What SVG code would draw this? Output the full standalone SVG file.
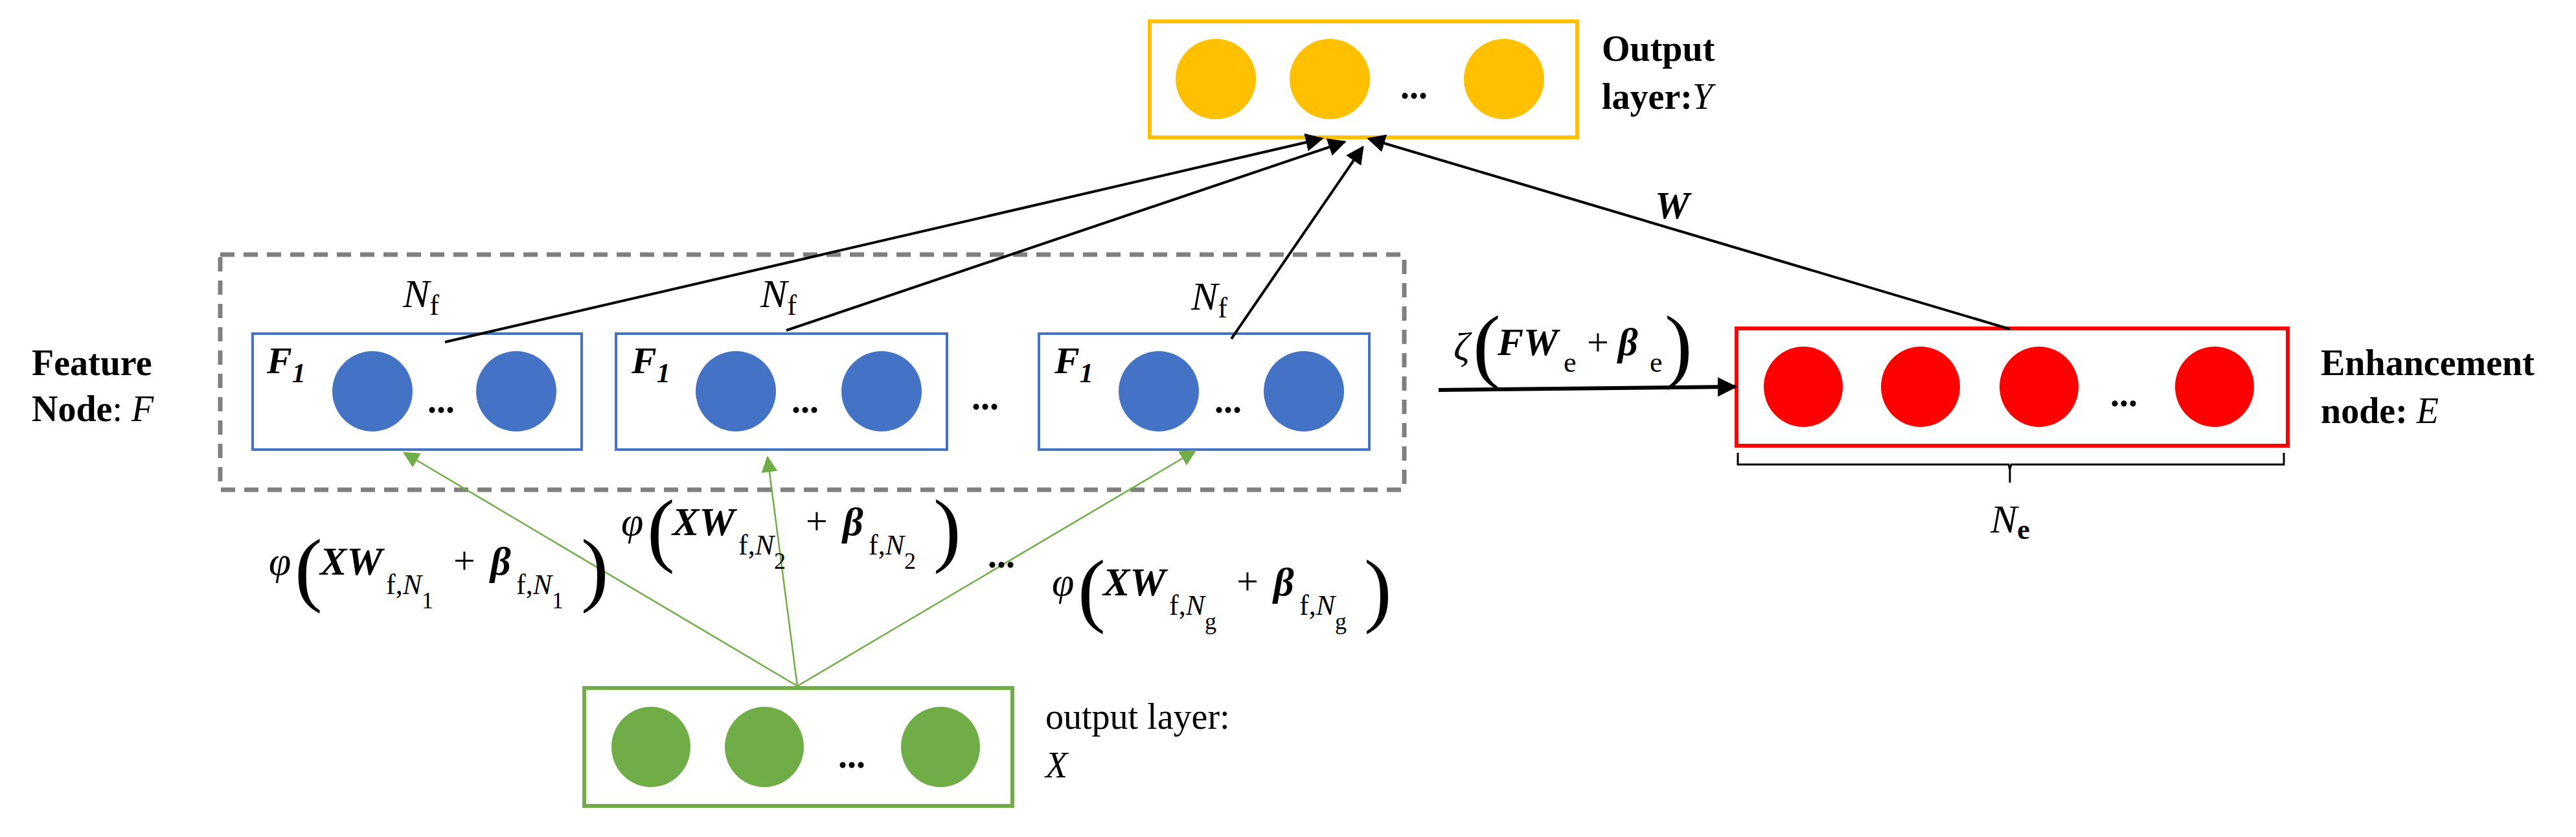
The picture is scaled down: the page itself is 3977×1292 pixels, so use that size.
<svg xmlns="http://www.w3.org/2000/svg" width="3977" height="1292" viewBox="0 0 3977 1292">
<style>
.t{font-family:"Liberation Serif","Times New Roman",serif;fill:#000}
.b{font-weight:bold}
.i{font-style:italic}
.lbl{font-size:56px}
.m{font-size:62px;font-style:italic}
.s{font-size:44px;font-style:normal}
.ss{font-size:36px;font-style:normal}
.par{font-size:128px;font-weight:normal;font-style:normal}
.dots{font-family:"Liberation Serif",serif;font-size:56px;font-weight:bold}
.blk{stroke:#000;stroke-width:4;fill:none}
.grn{stroke:#70AD47;stroke-width:2.5;fill:none}
</style>
<defs>
<marker id="ab" viewBox="0 0 10 10" refX="9" refY="5" markerWidth="7" markerHeight="7" markerUnits="strokeWidth" orient="auto"><path d="M0,0 L10,5 L0,10 z" fill="#000"/></marker>
<marker id="ab2" viewBox="0 0 10 10" refX="9" refY="5" markerWidth="5" markerHeight="5" markerUnits="strokeWidth" orient="auto"><path d="M0,0 L10,5 L0,10 z" fill="#000"/></marker>
<marker id="ag" viewBox="0 0 10 10" refX="9" refY="5" markerWidth="12" markerHeight="10" markerUnits="strokeWidth" orient="auto"><path d="M0,0 L10,5 L0,10 z" fill="#70AD47"/></marker>
</defs>

<g id="feature-group">
<rect x="340" y="393" width="1828" height="363" fill="none" stroke="#7F7F7F" stroke-width="7" stroke-dasharray="22 14"/>
<text class="t b lbl" x="49" y="579">Feature</text>
<text class="t b lbl" x="49" y="650">Node<tspan font-weight="normal">:  </tspan><tspan class="i" font-weight="normal">F</tspan></text>
<text class="dots" x="1500" y="632">...</text>
</g>

<g id="feature1">
<rect x="390" y="515" width="508" height="179" fill="#fff" stroke="#4472C4" stroke-width="4"/>
<text class="t i b" font-size="58" x="412" y="576">F<tspan font-size="42" dy="14">1</tspan></text>
<ellipse cx="575" cy="604" rx="62" ry="62" fill="#4472C4"/>
<ellipse cx="797" cy="604" rx="62" ry="62" fill="#4472C4"/>
<text class="dots" x="660" y="637">...</text>
<text class="t m" x="622" y="474">N<tspan class="s" dy="12">f</tspan></text>
</g>
<g id="feature2">
<rect x="951" y="515" width="511" height="179" fill="#fff" stroke="#4472C4" stroke-width="4"/>
<text class="t i b" font-size="58" x="975" y="576">F<tspan font-size="42" dy="14">1</tspan></text>
<ellipse cx="1136" cy="604" rx="62" ry="62" fill="#4472C4"/>
<ellipse cx="1361" cy="604" rx="62" ry="62" fill="#4472C4"/>
<text class="dots" x="1222" y="637">...</text>
<text class="t m" x="1174" y="474">N<tspan class="s" dy="12">f</tspan></text>
</g>
<g id="feature3">
<rect x="1604" y="515" width="510" height="179" fill="#fff" stroke="#4472C4" stroke-width="4"/>
<text class="t i b" font-size="58" x="1628" y="576">F<tspan font-size="42" dy="14">1</tspan></text>
<ellipse cx="1789" cy="604" rx="62" ry="62" fill="#4472C4"/>
<ellipse cx="2013" cy="604" rx="62" ry="62" fill="#4472C4"/>
<text class="dots" x="1875" y="637">...</text>
<text class="t m" x="1839" y="478">N<tspan class="s" dy="12">f</tspan></text>
</g>

<g id="output-Y">
<rect x="1775" y="33" width="660" height="179" fill="#fff" stroke="#FFC000" stroke-width="6"/>
<ellipse cx="1877" cy="122" rx="62" ry="62" fill="#FFC000"/>
<ellipse cx="2053" cy="122" rx="62" ry="62" fill="#FFC000"/>
<ellipse cx="2322" cy="122" rx="62" ry="62" fill="#FFC000"/>
<text class="dots" x="2162" y="152">...</text>
<text class="t b lbl" x="2473" y="94">Output</text>
<text class="t b lbl" x="2473" y="168">layer:<tspan class="i" font-weight="normal">Y</tspan></text>
</g>

<g id="enhancement-E">
<rect x="2681" y="507" width="851" height="181" fill="#fff" stroke="#FF0000" stroke-width="6"/>
<ellipse cx="2784" cy="597" rx="61" ry="62" fill="#FF0000"/>
<ellipse cx="2965" cy="597" rx="61" ry="62" fill="#FF0000"/>
<ellipse cx="3148" cy="597" rx="61" ry="62" fill="#FF0000"/>
<ellipse cx="3419" cy="597" rx="61" ry="62" fill="#FF0000"/>
<text class="dots" x="3258" y="627">...</text>
<text class="t b lbl" x="3583" y="579">Enhancement</text>
<text class="t b lbl" x="3583" y="653">node: <tspan class="i" font-weight="normal">E</tspan></text>
<path d="M2683,699 v18 h418 l2,8 l2,-8 h421 v-18" fill="none" stroke="#000" stroke-width="3"/>
<line x1="3103" y1="725" x2="3103" y2="745" stroke="#000" stroke-width="3"/>
<text class="t m" x="3073" y="822">N<tspan class="s b" dy="10">e</tspan></text>
</g>

<g id="input-X">
<rect x="902" y="1062" width="661" height="182" fill="#fff" stroke="#70AD47" stroke-width="6"/>
<ellipse cx="1005" cy="1153" rx="61" ry="62" fill="#70AD47"/>
<ellipse cx="1180" cy="1153" rx="61" ry="62" fill="#70AD47"/>
<ellipse cx="1452" cy="1153" rx="61" ry="62" fill="#70AD47"/>
<text class="dots" x="1294" y="1185">...</text>
<text class="t lbl" x="1614" y="1125">output layer:</text>
<text class="t lbl i" x="1614" y="1200">X</text>
</g>

<g id="connectors">
<line class="blk" x1="687" y1="528" x2="2041" y2="214" marker-end="url(#ab)"/>
<line class="blk" x1="1214" y1="510" x2="2076" y2="219" marker-end="url(#ab)"/>
<line class="blk" x1="1901" y1="523" x2="2104" y2="227" marker-end="url(#ab)"/>
<line class="blk" x1="3103" y1="508" x2="2113" y2="214" marker-end="url(#ab)"/>
<line x1="2221" y1="602" x2="2679" y2="597" stroke="#000" stroke-width="6" marker-end="url(#ab2)"/>
<line class="grn" x1="1231" y1="1059" x2="624" y2="699" marker-end="url(#ag)"/>
<line class="grn" x1="1231" y1="1059" x2="1185" y2="706" marker-end="url(#ag)"/>
<line class="grn" x1="1231" y1="1059" x2="1845" y2="696" marker-end="url(#ag)"/>
</g>

<g id="labels">
<text class="t i b" font-size="60" x="2555" y="337">W</text>
<g id="zeta">
<text class="t i" font-size="62" x="2244" y="556">ζ</text>
<text class="t par" font-size="108" x="2274" y="575">(</text>
<text class="t b i" font-size="60" x="2312" y="548">FW</text>
<text class="t s" x="2414" y="574">e</text>
<text class="t" font-size="60" x="2450" y="548">+</text>
<text class="t b i" font-size="60" x="2498" y="548">β</text>
<text class="t s" x="2547" y="574">e</text>
<text class="t par" font-size="108" x="2570" y="575">)</text>
</g>
<g id="phi1">
<text class="t i" font-size="62" x="415" y="887">φ</text>
<text class="t par" x="455" y="920">(</text>
<text class="t b i" font-size="62" x="494" y="887">XW</text>
<text class="t s" x="596" y="917">f,<tspan class="i">N</tspan><tspan class="ss" dy="22">1</tspan></text>
<text class="t" font-size="60" x="700" y="885">+</text>
<text class="t b i" font-size="62" x="757" y="887">β</text>
<text class="t s" x="797" y="917">f,<tspan class="i">N</tspan><tspan class="ss" dy="22">1</tspan></text>
<text class="t par" x="897" y="920">)</text>
</g>
<g id="phi2" transform="translate(544,-61)">
<text class="t i" font-size="62" x="415" y="887">φ</text>
<text class="t par" x="455" y="920">(</text>
<text class="t b i" font-size="62" x="494" y="887">XW</text>
<text class="t s" x="596" y="917">f,<tspan class="i">N</tspan><tspan class="ss" dy="22">2</tspan></text>
<text class="t" font-size="60" x="700" y="885">+</text>
<text class="t b i" font-size="62" x="757" y="887">β</text>
<text class="t s" x="797" y="917">f,<tspan class="i">N</tspan><tspan class="ss" dy="22">2</tspan></text>
<text class="t par" x="897" y="920">)</text>
</g>
<text class="dots" x="1525" y="876">...</text>
<g id="phi3" transform="translate(1209,32)">
<text class="t i" font-size="62" x="415" y="887">φ</text>
<text class="t par" x="455" y="920">(</text>
<text class="t b i" font-size="62" x="494" y="887">XW</text>
<text class="t s" x="596" y="917">f,<tspan class="i">N</tspan><tspan class="ss" dy="22">g</tspan></text>
<text class="t" font-size="60" x="700" y="885">+</text>
<text class="t b i" font-size="62" x="757" y="887">β</text>
<text class="t s" x="797" y="917">f,<tspan class="i">N</tspan><tspan class="ss" dy="22">g</tspan></text>
<text class="t par" x="897" y="920">)</text>
</g>
</g>
</svg>
